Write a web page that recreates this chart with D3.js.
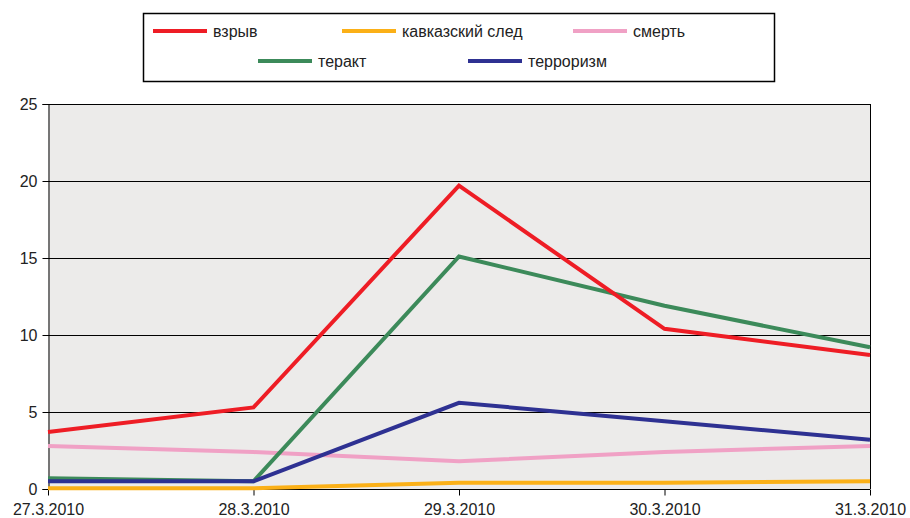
<!DOCTYPE html>
<html><head><meta charset="utf-8">
<script src="https://cdn.jsdelivr.net/npm/d3@7"></script>
<style>body{margin:0;background:#fff;} svg{display:block;font-family:"Liberation Sans",Arial,sans-serif;}</style>
</head><body>
<svg id="c" width="910" height="518"></svg>
<script>
const dates = ["27.3.2010","28.3.2010","29.3.2010","30.3.2010","31.3.2010"];
const yTicks = [0,5,10,15,20,25];
const seriesNames = ["взрыв","кавказский след","смерть","теракт","терроризм"];
const vzryv = [3.7, 5.3, 19.7, 10.4, 8.7];
const kavkaz = [0.05, 0.05, 0.4, 0.4, 0.5];
const smert = [2.8, 2.4, 1.8, 2.4, 2.8];
const terakt = [0.7, 0.5, 15.1, 11.9, 9.2];
const terrorizm = [0.5, 0.5, 5.6, 4.4, 3.2];
const colors = ["#EE1D25","#FBB017","#F0A1C5","#3C8A5A","#2E3192"];

const series = [vzryv, kavkaz, smert, terakt, terrorizm];
const svg = d3.select("#c");
const L=48, R=870, T=104, B=489;
const x = d3.scalePoint().domain(dates).range([L,R]);
const y = d3.scaleLinear().domain([0,25]).range([B,T]);

svg.append("rect").attr("x",L).attr("y",T).attr("width",R-L).attr("height",B-T).attr("fill","#ECEBEA");
svg.append("g").selectAll("line").data(yTicks.filter(d=>d>0)).join("line")
  .attr("x1",L).attr("x2",R).attr("y1",d=>y(d)+0.5).attr("y2",d=>y(d)+0.5)
  .attr("stroke","#000").attr("stroke-width",1);
svg.append("line").attr("x1",R+0.5).attr("x2",R+0.5).attr("y1",T).attr("y2",B).attr("stroke","#000");

const yAxis = svg.append("g").attr("transform",`translate(${L+0.5},0)`)
  .call(d3.axisLeft(y).tickValues(yTicks).tickSize(6).tickPadding(5));
const xAxis = svg.append("g").attr("transform",`translate(0,${B+0.5})`)
  .call(d3.axisBottom(x).tickSize(6).tickPadding(8));
[yAxis,xAxis].forEach(a=>{
  a.select(".domain").attr("stroke","#000");
  a.selectAll(".tick line").attr("stroke","#000");
  a.selectAll("text").attr("font-size","16px").attr("fill","#222").attr("font-family","Liberation Sans, Arial, sans-serif");
});
xAxis.select(".domain").attr("d",`M${L},0H${R}`);

const line = d3.line().x((d,i)=>x(dates[i])).y(d=>y(d));
const drawOrder = [1,2,3,4,0];
drawOrder.forEach(k=>{
  svg.append("path").datum(series[k]).attr("d",line)
    .attr("fill","none").attr("stroke",colors[k]).attr("stroke-width",4)
    .attr("stroke-linejoin","miter");
});

svg.append("rect").attr("x",143.5).attr("y",13.5).attr("width",631).attr("height",68)
  .attr("fill","#fff").attr("stroke","#000").attr("stroke-width",1.5);
const legPos = [[153,31],[342,31],[573,31],[258,61],[468,61]];
seriesNames.forEach((n,i)=>{
  const [lx,ly]=legPos[i];
  svg.append("line").attr("x1",lx).attr("x2",lx+54).attr("y1",ly).attr("y2",ly)
    .attr("stroke",colors[i]).attr("stroke-width",4);
  svg.append("text").attr("x",lx+60).attr("y",ly+5.5).text(n)
    .attr("font-size","16px").attr("fill","#222");
});
</script>
</body></html>
